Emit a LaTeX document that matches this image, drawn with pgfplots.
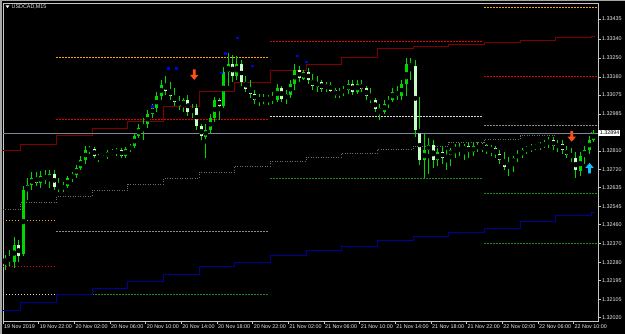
\documentclass[border=0pt]{standalone}
\usepackage{pgfplots}
\pgfplotsset{compat=1.18}
\usepackage{pgfplotstable}
\usepackage{fontspec}
\setmainfont{Liberation Sans}
\definecolor{candle}{RGB}{0,215,0}
\definecolor{bearbody}{RGB}{200,255,200}
\definecolor{maroonline}{RGB}{128,0,0}
\definecolor{navyline}{RGB}{0,0,150}
\definecolor{pivgray}{RGB}{140,140,140}
\definecolor{pivlight}{RGB}{215,215,215}
\definecolor{orangelvl}{RGB}{255,165,0}
\definecolor{redlvl}{RGB}{230,0,0}
\definecolor{greenlvl}{RGB}{30,140,30}
\definecolor{stepgray}{RGB}{110,110,110}
\definecolor{arroworange}{RGB}{255,80,20}
\definecolor{arrowcyan}{RGB}{20,190,255}
\definecolor{priceline}{RGB}{119,136,153}
\definecolor{framegray}{RGB}{200,200,200}
\definecolor{fractal}{RGB}{0,0,230}

\pgfdeclareplotmark{darrow}{%
 \pgfpathmoveto{\pgfpoint{-1.4pt}{5.5pt}}%
 \pgfpathlineto{\pgfpoint{1.4pt}{5.5pt}}%
 \pgfpathlineto{\pgfpoint{1.4pt}{0pt}}%
 \pgfpathlineto{\pgfpoint{4.2pt}{0pt}}%
 \pgfpathlineto{\pgfpoint{0pt}{-5pt}}%
 \pgfpathlineto{\pgfpoint{-4.2pt}{0pt}}%
 \pgfpathlineto{\pgfpoint{-1.4pt}{0pt}}%
 \pgfpathclose
 \pgfusepathqfill}
\pgfdeclareplotmark{uarrow}{%
 \pgfpathmoveto{\pgfpoint{-1.4pt}{-5.5pt}}%
 \pgfpathlineto{\pgfpoint{1.4pt}{-5.5pt}}%
 \pgfpathlineto{\pgfpoint{1.4pt}{0pt}}%
 \pgfpathlineto{\pgfpoint{4.2pt}{0pt}}%
 \pgfpathlineto{\pgfpoint{0pt}{5pt}}%
 \pgfpathlineto{\pgfpoint{-4.2pt}{0pt}}%
 \pgfpathlineto{\pgfpoint{-1.4pt}{0pt}}%
 \pgfpathclose
 \pgfusepathqfill}

\pgfplotstableread{
t o h l c
0.25 1.32283 1.32316 1.32245 1.32302
0.75 1.32302 1.32340 1.32264 1.32283
1.25 1.32283 1.32402 1.32255 1.32364
1.75 1.32364 1.32387 1.32283 1.32312
2.25 1.32321 1.32643 1.32312 1.32624
2.75 1.32624 1.32681 1.32577 1.32648
3.25 1.32648 1.32710 1.32624 1.32681
3.75 1.32681 1.32710 1.32643 1.32662
4.25 1.32662 1.32715 1.32634 1.32691
4.75 1.32691 1.32719 1.32653 1.32672
5.25 1.32672 1.32719 1.32634 1.32700
5.75 1.32700 1.32719 1.32624 1.32643
6.25 1.32643 1.32681 1.32615 1.32634
6.75 1.32634 1.32662 1.32615 1.32643
7.25 1.32643 1.32691 1.32634 1.32681
7.75 1.32681 1.32710 1.32662 1.32700
8.25 1.32700 1.32743 1.32681 1.32729
8.75 1.32729 1.32786 1.32719 1.32767
9.25 1.32767 1.32833 1.32748 1.32814
9.75 1.32814 1.32833 1.32795 1.32819
10.25 1.32819 1.32828 1.32776 1.32786
10.75 1.32786 1.32795 1.32757 1.32776
11.25 1.32776 1.32790 1.32767 1.32781
11.75 1.32781 1.32814 1.32771 1.32805
12.25 1.32805 1.32819 1.32790 1.32800
12.75 1.32800 1.32824 1.32786 1.32814
13.25 1.32814 1.32824 1.32776 1.32786
13.75 1.32786 1.32828 1.32776 1.32819
14.25 1.32819 1.32842 1.32805 1.32833
14.75 1.32833 1.32890 1.32824 1.32880
15.25 1.32880 1.32937 1.32871 1.32918
15.75 1.32918 1.32966 1.32861 1.32937
16.25 1.32937 1.33004 1.32918 1.32985
16.75 1.32985 1.33032 1.32966 1.33013
17.25 1.33013 1.33089 1.32994 1.33070
17.75 1.33070 1.33146 1.33051 1.33122
18.25 1.33122 1.33165 1.33075 1.33098
18.75 1.33098 1.33136 1.33051 1.33070
19.25 1.33070 1.33108 1.33023 1.33042
19.75 1.33042 1.33070 1.33004 1.33023
20.25 1.33023 1.33060 1.32994 1.33051
20.75 1.33051 1.33075 1.32975 1.32994
21.25 1.32994 1.33032 1.32966 1.33013
21.75 1.33013 1.33032 1.32909 1.32928
22.25 1.32928 1.32937 1.32861 1.32880
22.75 1.32880 1.32937 1.32776 1.32909
23.25 1.32909 1.32985 1.32890 1.32966
23.75 1.32966 1.33065 1.32947 1.33051
24.25 1.33051 1.33060 1.32956 1.33023
24.75 1.33023 1.33207 1.33013 1.33184
25.25 1.33184 1.33274 1.33117 1.33222
25.75 1.33222 1.33264 1.33136 1.33165
26.25 1.33165 1.33260 1.33146 1.33222
26.75 1.33222 1.33241 1.33117 1.33136
27.25 1.33136 1.33165 1.33089 1.33108
27.75 1.33108 1.33146 1.33060 1.33079
28.25 1.33079 1.33098 1.33032 1.33051
28.75 1.33051 1.33079 1.33023 1.33060
29.25 1.33060 1.33079 1.33032 1.33051
29.75 1.33051 1.33075 1.33027 1.33065
30.25 1.33065 1.33089 1.33032 1.33051
30.75 1.33051 1.33127 1.33042 1.33108
31.25 1.33108 1.33117 1.33042 1.33060
31.75 1.33060 1.33098 1.33032 1.33079
32.25 1.33079 1.33146 1.33060 1.33127
32.75 1.33127 1.33222 1.33098 1.33193
33.25 1.33193 1.33212 1.33136 1.33155
33.75 1.33155 1.33193 1.33146 1.33184
34.25 1.33184 1.33203 1.33127 1.33146
34.75 1.33146 1.33174 1.33098 1.33117
35.25 1.33117 1.33165 1.33089 1.33136
35.75 1.33136 1.33146 1.33089 1.33108
36.25 1.33108 1.33136 1.33089 1.33122
36.75 1.33122 1.33136 1.33089 1.33098
37.25 1.33098 1.33108 1.33060 1.33079
37.75 1.33079 1.33108 1.33060 1.33089
38.25 1.33089 1.33117 1.33070 1.33098
38.75 1.33098 1.33146 1.33079 1.33127
39.25 1.33127 1.33146 1.33075 1.33089
39.75 1.33089 1.33146 1.33079 1.33127
40.25 1.33127 1.33146 1.33089 1.33108
40.75 1.33108 1.33117 1.33051 1.33070
41.25 1.33070 1.33108 1.33037 1.33051
41.75 1.33051 1.33060 1.32994 1.33013
42.25 1.33013 1.33032 1.32956 1.32994
42.75 1.32994 1.33051 1.32985 1.33032
43.25 1.33032 1.33070 1.33013 1.33051
43.75 1.33051 1.33108 1.33042 1.33089
44.25 1.33089 1.33117 1.33051 1.33070
44.75 1.33070 1.33146 1.33051 1.33127
45.25 1.33127 1.33250 1.33070 1.33222
45.75 1.33222 1.33250 1.33146 1.33212
46.25 1.33212 1.33241 1.32876 1.32909
46.75 1.32909 1.33065 1.32743 1.32767
47.25 1.32767 1.32890 1.32681 1.32814
47.75 1.32814 1.32871 1.32700 1.32838
48.25 1.32838 1.32861 1.32729 1.32767
48.75 1.32767 1.32824 1.32738 1.32805
49.25 1.32805 1.32833 1.32748 1.32776
49.75 1.32776 1.32814 1.32719 1.32790
50.25 1.32790 1.32824 1.32738 1.32814
50.75 1.32814 1.32842 1.32776 1.32824
51.25 1.32824 1.32847 1.32786 1.32814
51.75 1.32814 1.32842 1.32767 1.32833
52.25 1.32833 1.32852 1.32776 1.32805
52.75 1.32805 1.32847 1.32786 1.32833
53.25 1.32833 1.32852 1.32805 1.32824
53.75 1.32824 1.32847 1.32805 1.32838
54.25 1.32838 1.32842 1.32795 1.32814
54.75 1.32814 1.32838 1.32786 1.32824
55.25 1.32824 1.32833 1.32776 1.32795
55.75 1.32795 1.32814 1.32748 1.32767
56.25 1.32767 1.32805 1.32719 1.32738
56.75 1.32738 1.32781 1.32691 1.32757
57.25 1.32757 1.32786 1.32710 1.32776
57.75 1.32776 1.32814 1.32757 1.32795
58.25 1.32795 1.32824 1.32776 1.32814
58.75 1.32814 1.32833 1.32795 1.32824
59.25 1.32824 1.32842 1.32805 1.32828
59.75 1.32828 1.32842 1.32814 1.32833
60.25 1.32833 1.32852 1.32814 1.32838
60.75 1.32838 1.32861 1.32824 1.32847
61.25 1.32847 1.32876 1.32824 1.32861
61.75 1.32861 1.32876 1.32814 1.32833
62.25 1.32833 1.32861 1.32805 1.32842
62.75 1.32842 1.32861 1.32795 1.32814
63.25 1.32814 1.32833 1.32776 1.32795
63.75 1.32795 1.32824 1.32757 1.32776
64.25 1.32776 1.32805 1.32681 1.32719
64.75 1.32719 1.32805 1.32691 1.32786
65.25 1.32786 1.32833 1.32748 1.32814
65.75 1.32814 1.32880 1.32795 1.32861
66.25 1.32861 1.32909 1.32852 1.32894
}\candles

\begin{document}
\begin{tikzpicture}[x=1pt,y=1pt]
\useasboundingbox (0,0) rectangle (625,334);
\fill[black] (0,0) rectangle (625,334);
\begin{axis}[
  at={(3pt,13pt)}, anchor=south west,
  width=595pt, height=318pt, scale only axis,
  xmin=0, xmax=66.75, ymin=1.32003, ymax=1.33511,
  clip=false,
  axis line style={framegray, line width=0.8pt},
  tick align=outside, major tick length=3pt,
  every tick/.style={framegray, line width=0.6pt},
  xtick pos=bottom, ytick pos=right, yticklabel pos=right,
  tick label style={font=\fontsize{5.4}{6}\selectfont, text=white!92!black},
  xtick={0,4,8,12,16,20,24,28,32,36,40,44,48,52,56,60,64},
  xticklabels={19 Nov 2019,19 Nov 22:00,20 Nov 02:00,20 Nov 06:00,20 Nov 10:00,20 Nov 14:00,20 Nov 18:00,20 Nov 22:00,21 Nov 02:00,21 Nov 06:00,21 Nov 10:00,21 Nov 14:00,21 Nov 18:00,21 Nov 22:00,22 Nov 02:00,22 Nov 06:00,22 Nov 10:00},
  xticklabel style={anchor=north west, inner sep=1pt},
  ytick={1.32020,1.32105,1.32195,1.32280,1.32370,1.32460,1.32545,1.32635,1.32720,1.32810,1.32894,1.32985,1.33075,1.33160,1.33250,1.33340,1.33435},
  yticklabels={1.32020,1.32105,1.32195,1.32280,1.32370,1.32460,1.32545,1.32635,1.32720,1.32810,{},1.32985,1.33075,1.33160,1.33250,1.33340,1.33435},
  yticklabel style={anchor=west, inner sep=1pt},
]
% daily pivot levels
\addplot[orangelvl, line width=0.8pt, dash pattern=on 1.5pt off 1.5pt] coordinates {(0,1.32482) (5.85,1.32482)};
\addplot[redlvl, line width=0.8pt, dash pattern=on 1.5pt off 1.5pt] coordinates {(0,1.32264) (5.85,1.32264)};
\addplot[pivlight, line width=0.8pt, dash pattern=on 1.2pt off 1.8pt] coordinates {(0,1.32130) (5.85,1.32130)};
\addplot[orangelvl, line width=0.8pt, dash pattern=on 1.5pt off 1.5pt] coordinates {(6,1.33253) (29.85,1.33253)};
\addplot[redlvl, line width=0.8pt, dash pattern=on 1.5pt off 1.5pt] coordinates {(6,1.32960) (29.85,1.32960)};
\addplot[pivgray, line width=0.9pt, dash pattern=on 1.2pt off 1.8pt] coordinates {(6,1.32427) (29.85,1.32427)};
\addplot[greenlvl, line width=0.8pt, dash pattern=on 1.2pt off 1.8pt] coordinates {(6,1.32130) (29.85,1.32130)};
\addplot[redlvl, line width=0.8pt, dash pattern=on 1.5pt off 1.5pt] coordinates {(30,1.33331) (53.85,1.33331)};
\addplot[pivlight, line width=0.8pt, dash pattern=on 1.2pt off 1.8pt] coordinates {(30,1.32974) (53.85,1.32974)};
\addplot[greenlvl, line width=0.8pt, dash pattern=on 1.2pt off 1.8pt] coordinates {(30,1.32680) (53.85,1.32680)};
\addplot[orangelvl, line width=0.8pt, dash pattern=on 1.5pt off 1.5pt] coordinates {(54,1.33490) (66.75,1.33490)};
\addplot[redlvl, line width=0.8pt, dash pattern=on 1.5pt off 1.5pt] coordinates {(54,1.33165) (66.75,1.33165)};
\addplot[pivgray, line width=0.9pt, dash pattern=on 1.2pt off 1.8pt] coordinates {(54,1.32929) (66.75,1.32929)};
\addplot[greenlvl, line width=0.8pt, dash pattern=on 1.2pt off 1.8pt] coordinates {(54,1.32609) (66.75,1.32609)};
\addplot[greenlvl, line width=0.8pt, dash pattern=on 1.2pt off 1.8pt] coordinates {(54,1.32372) (66.75,1.32372)};
% step channel lines
\addplot[maroonline, line width=0.8pt, const plot] coordinates {(0,1.32814) (2,1.32841) (6,1.32885) (10,1.32917) (14,1.32951) (18,1.33023) (22,1.33094) (26,1.33135) (30,1.33190) (34,1.33222) (38,1.33253) (42,1.33296) (46,1.33307) (50,1.33315) (54,1.33324) (58,1.33334) (62,1.33346) (66,1.33354) (66.4,1.33354)};
\addplot[navyline, line width=0.8pt, const plot] coordinates {(0,1.32052) (2,1.32090) (6,1.32130) (10,1.32158) (14,1.32193) (18,1.32226) (22,1.32261) (26,1.32283) (30,1.32316) (34,1.32340) (38,1.32359) (42,1.32387) (46,1.32406) (50,1.32425) (54,1.32440) (58,1.32473) (62,1.32506) (66,1.32520) (66.4,1.32520)};
\addplot[stepgray, line width=0.8pt, dash pattern=on 1pt off 1.5pt, const plot] coordinates {(0,1.32533) (2,1.32564) (6,1.32593) (10,1.32623) (14,1.32653) (18,1.32678) (22,1.32708) (26,1.32738) (30,1.32762) (34,1.32781) (38,1.32798) (42,1.32817) (46,1.32833) (50,1.32851) (54,1.32865) (58,1.32882) (62,1.32893) (66,1.32902) (66.4,1.32902)};
% current price line
\addplot[priceline, line width=0.8pt, solid] coordinates {(0,1.32894) (66.75,1.32894)};
% candles: wicks
\addplot[solid, only marks, mark=none, error bars/.cd, y dir=both, y explicit, error mark=none, error bar style={solid, candle, line width=1pt}]
  table[x=t, y expr={(\thisrow{h}+\thisrow{l})/2}, y error expr={(\thisrow{h}-\thisrow{l})/2}] {\candles};
% bull bodies
\addplot[solid, only marks, mark=none, restrict expr to domain={\thisrow{c}-\thisrow{o}}{0:1}, error bars/.cd, y dir=both, y explicit, error mark=none, error bar style={solid, candle, line width=3pt}]
  table[x=t, y expr={(\thisrow{o}+\thisrow{c})/2}, y error expr={abs(\thisrow{c}-\thisrow{o})/2+0.00001}] {\candles};
% bear bodies
\addplot[solid, only marks, mark=none, restrict expr to domain={\thisrow{c}-\thisrow{o}}{-1:-0.000001}, error bars/.cd, y dir=both, y explicit, error mark=none, error bar style={solid, bearbody, line width=3pt}]
  table[x=t, y expr={(\thisrow{o}+\thisrow{c})/2}, y error expr={abs(\thisrow{c}-\thisrow{o})/2+0.00001}] {\candles};
% fractal dots
\addplot[only marks, mark=square*, mark size=0.9pt, fractal] coordinates {(16.75,1.33023) (18.55,1.33203) (19.45,1.33203) (24.5,1.33180) (24.9,1.33272) (26.25,1.33346) (28.0,1.33214) (33.0,1.33261) (34.0,1.33233)};
% signal arrows
\addplot[only marks, mark=darrow, arroworange] coordinates {(21.45,1.33170) (63.8,1.32877)};
\addplot[only marks, mark=uarrow, arrowcyan] coordinates {(65.8,1.32729)};
% current price box
\node[anchor=west, fill=white, text=black, inner sep=0.8pt, font=\fontsize{5.4}{6}\selectfont] at (axis cs:66.75,1.32894) {\,1.32894};
\end{axis}
% title
\fill[white] (5.5,328.5) -- (9.5,328.5) -- (7.5,326) -- cycle;
\node[anchor=west, text=white!92!black, inner sep=0pt, font=\fontsize{5.4}{6}\selectfont] at (11.5,327) {USDCAD,M15};
% window border
\draw[gray!70, line width=1.5pt] (0.75,0) -- (0.75,333.25) -- (625,333.25);
\end{tikzpicture}
\end{document}
